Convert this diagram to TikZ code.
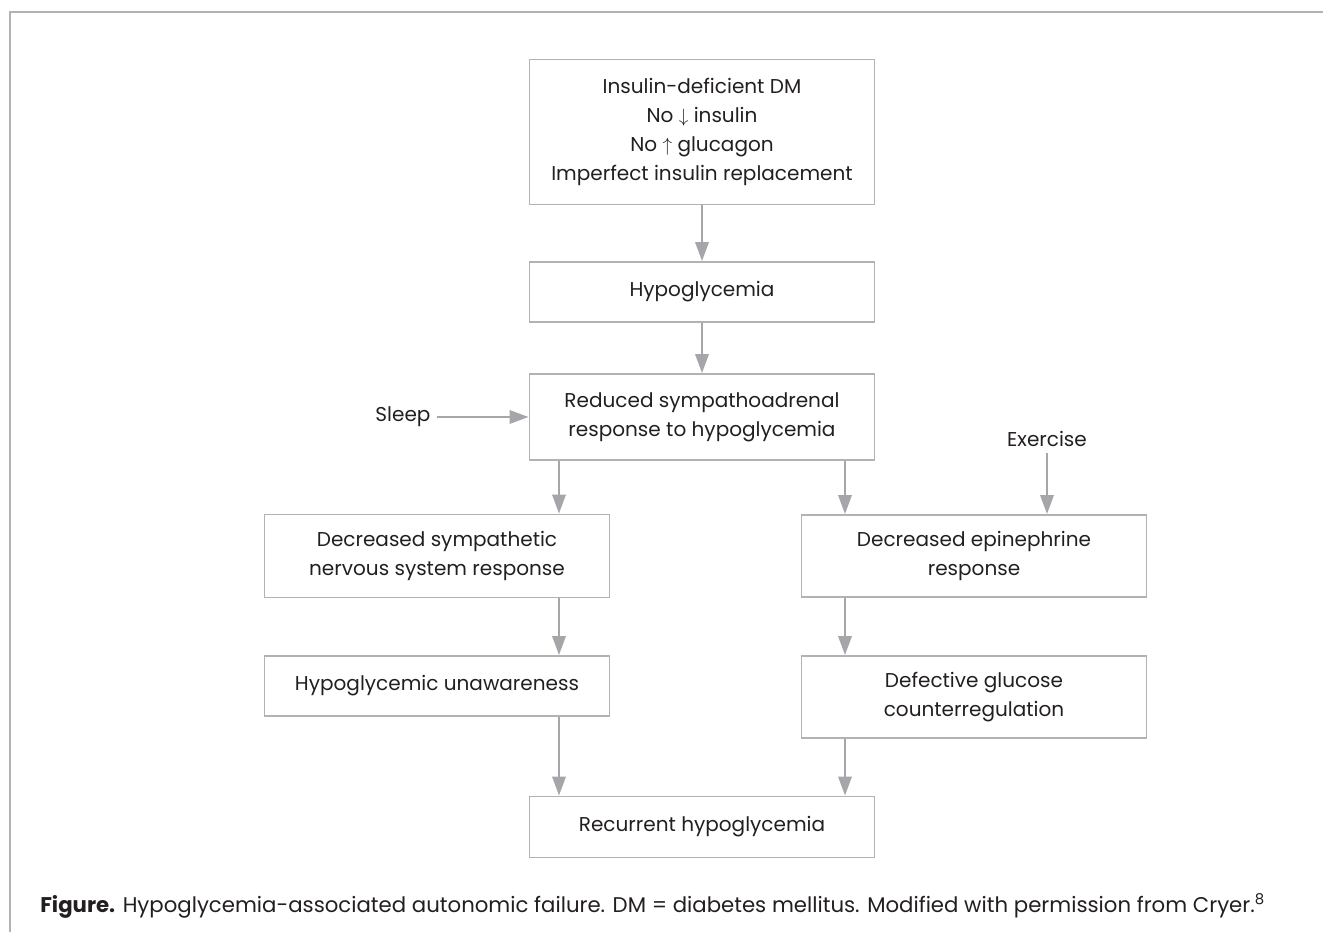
\documentclass[tikz,border=0pt]{standalone}
\usepackage{fontspec}
\setmainfont{Poppins}
\usepackage{tikz}
\usetikzlibrary{arrows.meta}

\definecolor{linegray}{RGB}{165,166,169}
\definecolor{boxgray}{RGB}{178,178,180}
\definecolor{inkdark}{RGB}{35,31,32}

\tikzset{
    flowbox/.style={draw=boxgray, line width=1.1pt, text=inkdark, align=center,
        minimum width=345*0.02cm, inner sep=0pt},
    flowarr/.style={draw=linegray, line width=1.1pt,
        -{Triangle[length=0.38cm, width=0.27cm]}, color=linegray},
    sidetext/.style={text=inkdark}
}

\begin{document}
\begin{tikzpicture}[x=0.02cm, y=-0.02cm, font=\fontsize{11.4}{16.5}\selectfont]
    \useasboundingbox (0,0) rectangle (1323,932);
    % frame
    \draw[boxgray, line width=1.1pt] (10,932) -- (10,12) -- (1323,12);

    % main column
    \node[flowbox, minimum height=145*0.02cm] (dm) at (702,132)
        {Insulin-deficient DM\\No $\downarrow$ insulin\\No $\uparrow$ glucagon\\Imperfect insulin replacement};
    \node[flowbox, minimum height=60*0.02cm] (hypo) at (702,292) {Hypoglycemia};
    \node[flowbox, minimum height=86*0.02cm] (reduced) at (702,417)
        {Reduced sympathoadrenal\\response to hypoglycemia};

    % left branch
    \node[flowbox, minimum height=83*0.02cm] (sns) at (437,556)
        {Decreased sympathetic\\nervous system response};
    \node[flowbox, minimum height=60*0.02cm] (unaware) at (437,686) {Hypoglycemic unawareness};

    % right branch
    \node[flowbox, minimum height=82*0.02cm] (epi) at (974,556)
        {Decreased epinephrine\\response};
    \node[flowbox, minimum height=82*0.02cm] (defect) at (974,697)
        {Defective glucose\\counterregulation};

    \node[flowbox, minimum height=61*0.02cm] (recur) at (702,827) {Recurrent hypoglycemia};

    % side inputs
    \node[sidetext] (sleep) at (403,417) {Sleep};
    \node[sidetext] (exercise) at (1047,439) {Exercise};

    \coordinate (lcol) at (559,0);
    \coordinate (rcol) at (845,0);

    % arrows
    \draw[flowarr] (dm) -- (hypo);
    \draw[flowarr] (hypo) -- (reduced);
    \draw[flowarr] (sleep) -- (reduced);
    \draw[flowarr] (reduced.south -| lcol) -- (sns.north -| lcol);
    \draw[flowarr] (reduced.south -| rcol) -- (epi.north -| rcol);
    \draw[flowarr] (exercise) -- (epi.north -| exercise);
    \draw[flowarr] (sns.south -| lcol) -- (unaware.north -| lcol);
    \draw[flowarr] (epi.south -| rcol) -- (defect.north -| rcol);
    \draw[flowarr] (unaware.south -| lcol) -- (recur.north -| lcol);
    \draw[flowarr] (defect.south -| rcol) -- (recur.north -| rcol);

    % caption
    \node[anchor=west, text=inkdark, inner sep=0pt, font=\fontsize{12.1}{15}\selectfont] (caption) at (40,906)
        {\textbf{Figure.} Hypoglycemia-associated autonomic failure. DM = diabetes mellitus. Modified with permission from Cryer.\textsuperscript{8}};
\end{tikzpicture}
\end{document}
